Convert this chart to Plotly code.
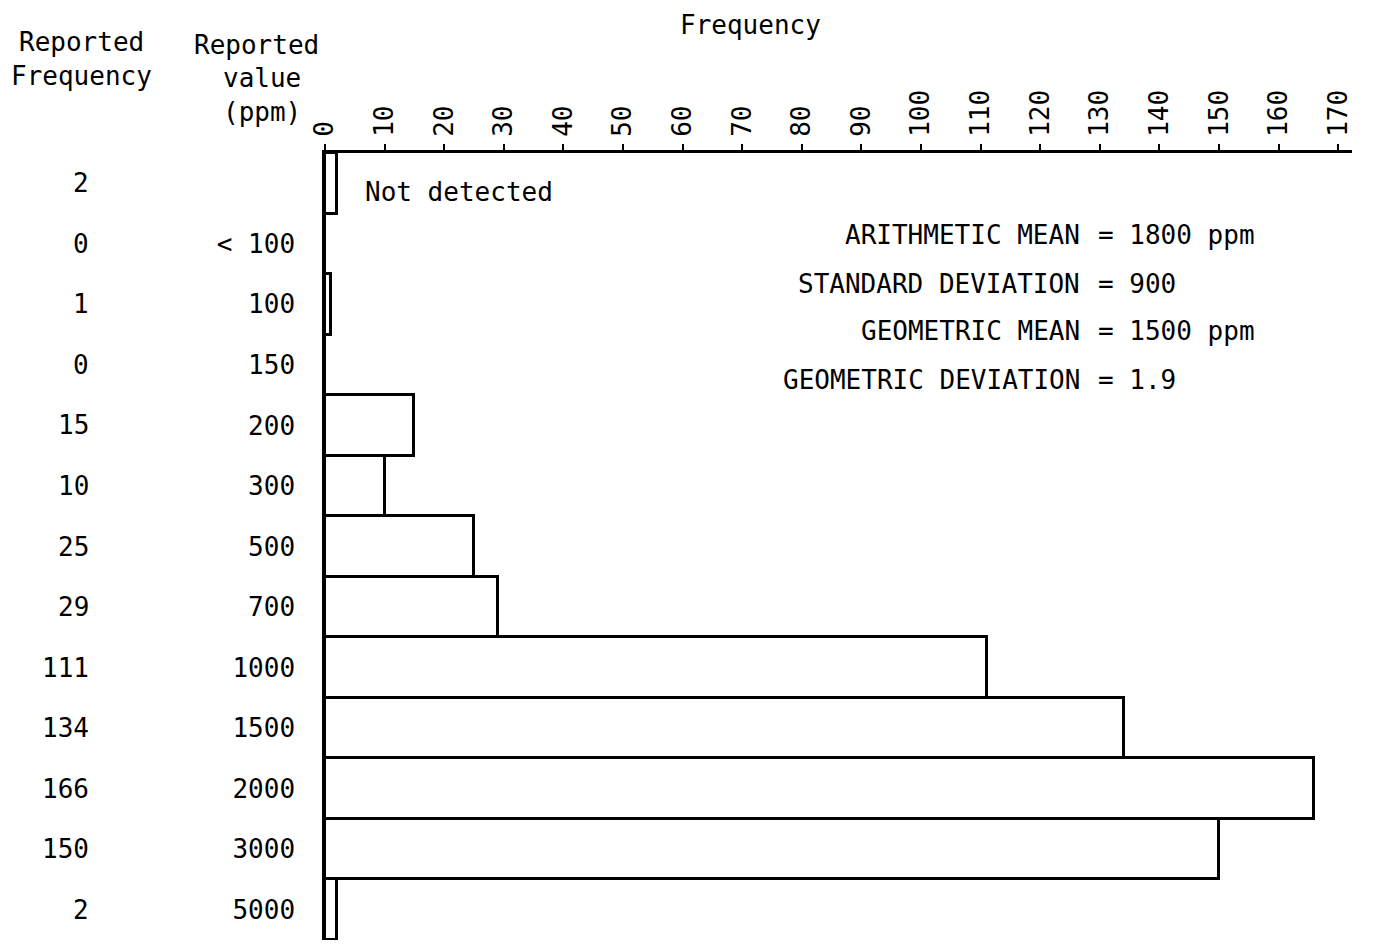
import plotly.graph_objects as go

# ---- data ----
reported_values = ["Not detected", "< 100", "100", "150", "200", "300", "500",
                   "700", "1000", "1500", "2000", "3000", "5000"]
reported_frequency = [2, 0, 1, 0, 15, 10, 25, 29, 111, 134, 166, 150, 2]
x_tick_values = [0, 10, 20, 30, 40, 50, 60, 70, 80, 90, 100, 110, 120, 130, 140, 150, 160, 170]
stat_names = ["ARITHMETIC MEAN", "STANDARD DEVIATION", "GEOMETRIC MEAN", "GEOMETRIC DEVIATION"]
stat_values = ["1800 ppm", "900", "1500 ppm", "1.9"]

# ---- layout helpers (screen pixel -> paper); page body has an 8px margin ----
OFF = 8
W, H = 1360, 932
L, R, T, B = 325 - OFF, 1352 - OFF, 153 - OFF, 932
def px(x):
    return (x - OFF - L) / (R - L)
def py(y):
    return (B - (y - OFF)) / (B - T)

FONT = "DejaVu Sans Mono"
FS = 26

fig = go.Figure()
fig.add_trace(go.Bar(
    y=reported_values,
    x=reported_frequency,
    orientation="h",
    marker=dict(color="white", line=dict(color="black", width=3)),
    hoverinfo="x+y",
))

annotations = []
# reported frequency column (category index positions on the y axis)
for i, f in enumerate(reported_frequency):
    annotations.append(dict(x=px(91), xref="paper", y=i, yref="y", text=str(f),
                            showarrow=False, xanchor="right", yanchor="middle",
                            font=dict(family=FONT, size=FS, color="black")))
# headers
annotations += [
    dict(x=px(81), y=py(42), text="Reported", xanchor="center"),
    dict(x=px(81), y=py(76), text="Frequency", xanchor="center"),
    dict(x=px(256), y=py(45), text="Reported", xanchor="center"),
    dict(x=px(262), y=py(78), text="value", xanchor="center"),
    dict(x=px(303), y=py(112), text="(ppm)", xanchor="right"),
    dict(x=px(750), y=py(25), text="Frequency", xanchor="center"),
    dict(x=px(363), y=py(192), text="Not detected", xanchor="left"),
]
stat_y = [235, 284, 331, 380]
for name, val, yy in zip(stat_names, stat_values, stat_y):
    annotations.append(dict(x=px(1082), y=py(yy), text=name, xanchor="right"))
    annotations.append(dict(x=px(1096), y=py(yy), text="= " + val, xanchor="left"))

for a in annotations:
    a.setdefault("xref", "paper")
    a.setdefault("yref", "paper")
    a.setdefault("showarrow", False)
    a.setdefault("yanchor", "middle")
    a.setdefault("font", dict(family=FONT, size=FS, color="black"))

n = len(reported_values)
fig.update_layout(
    width=W, height=H,
    margin=dict(l=L, r=W - R, t=T, b=H - B, pad=0),
    paper_bgcolor="white", plot_bgcolor="white",
    bargap=0,
    showlegend=False,
    font=dict(family=FONT, size=FS, color="black"),
    annotations=annotations,
    xaxis=dict(
        side="top", range=[0, 172.3], tickmode="array", tickvals=x_tick_values,
        ticktext=[str(t) for t in x_tick_values], tickangle=-90,
        showline=True, linecolor="black", linewidth=3,
        ticks="outside", ticklen=6, tickwidth=2, tickcolor="black",
        showgrid=False, zeroline=False, ticklabelstandoff=2,
        tickfont=dict(family=FONT, size=FS, color="black"),
    ),
    yaxis=dict(
        type="category",
        categoryorder="array", categoryarray=reported_values,
        range=[n - 0.5, -0.5], autorange=False,
        tickmode="array", tickvals=reported_values,
        ticktext=["" if v == "Not detected" else v for v in reported_values],
        showline=True, linecolor="black", linewidth=2.5,
        ticks="", showgrid=False, zeroline=False, ticklabelstandoff=22,
        tickfont=dict(family=FONT, size=FS, color="black"),
    ),
)

fig.write_html("out.html")
